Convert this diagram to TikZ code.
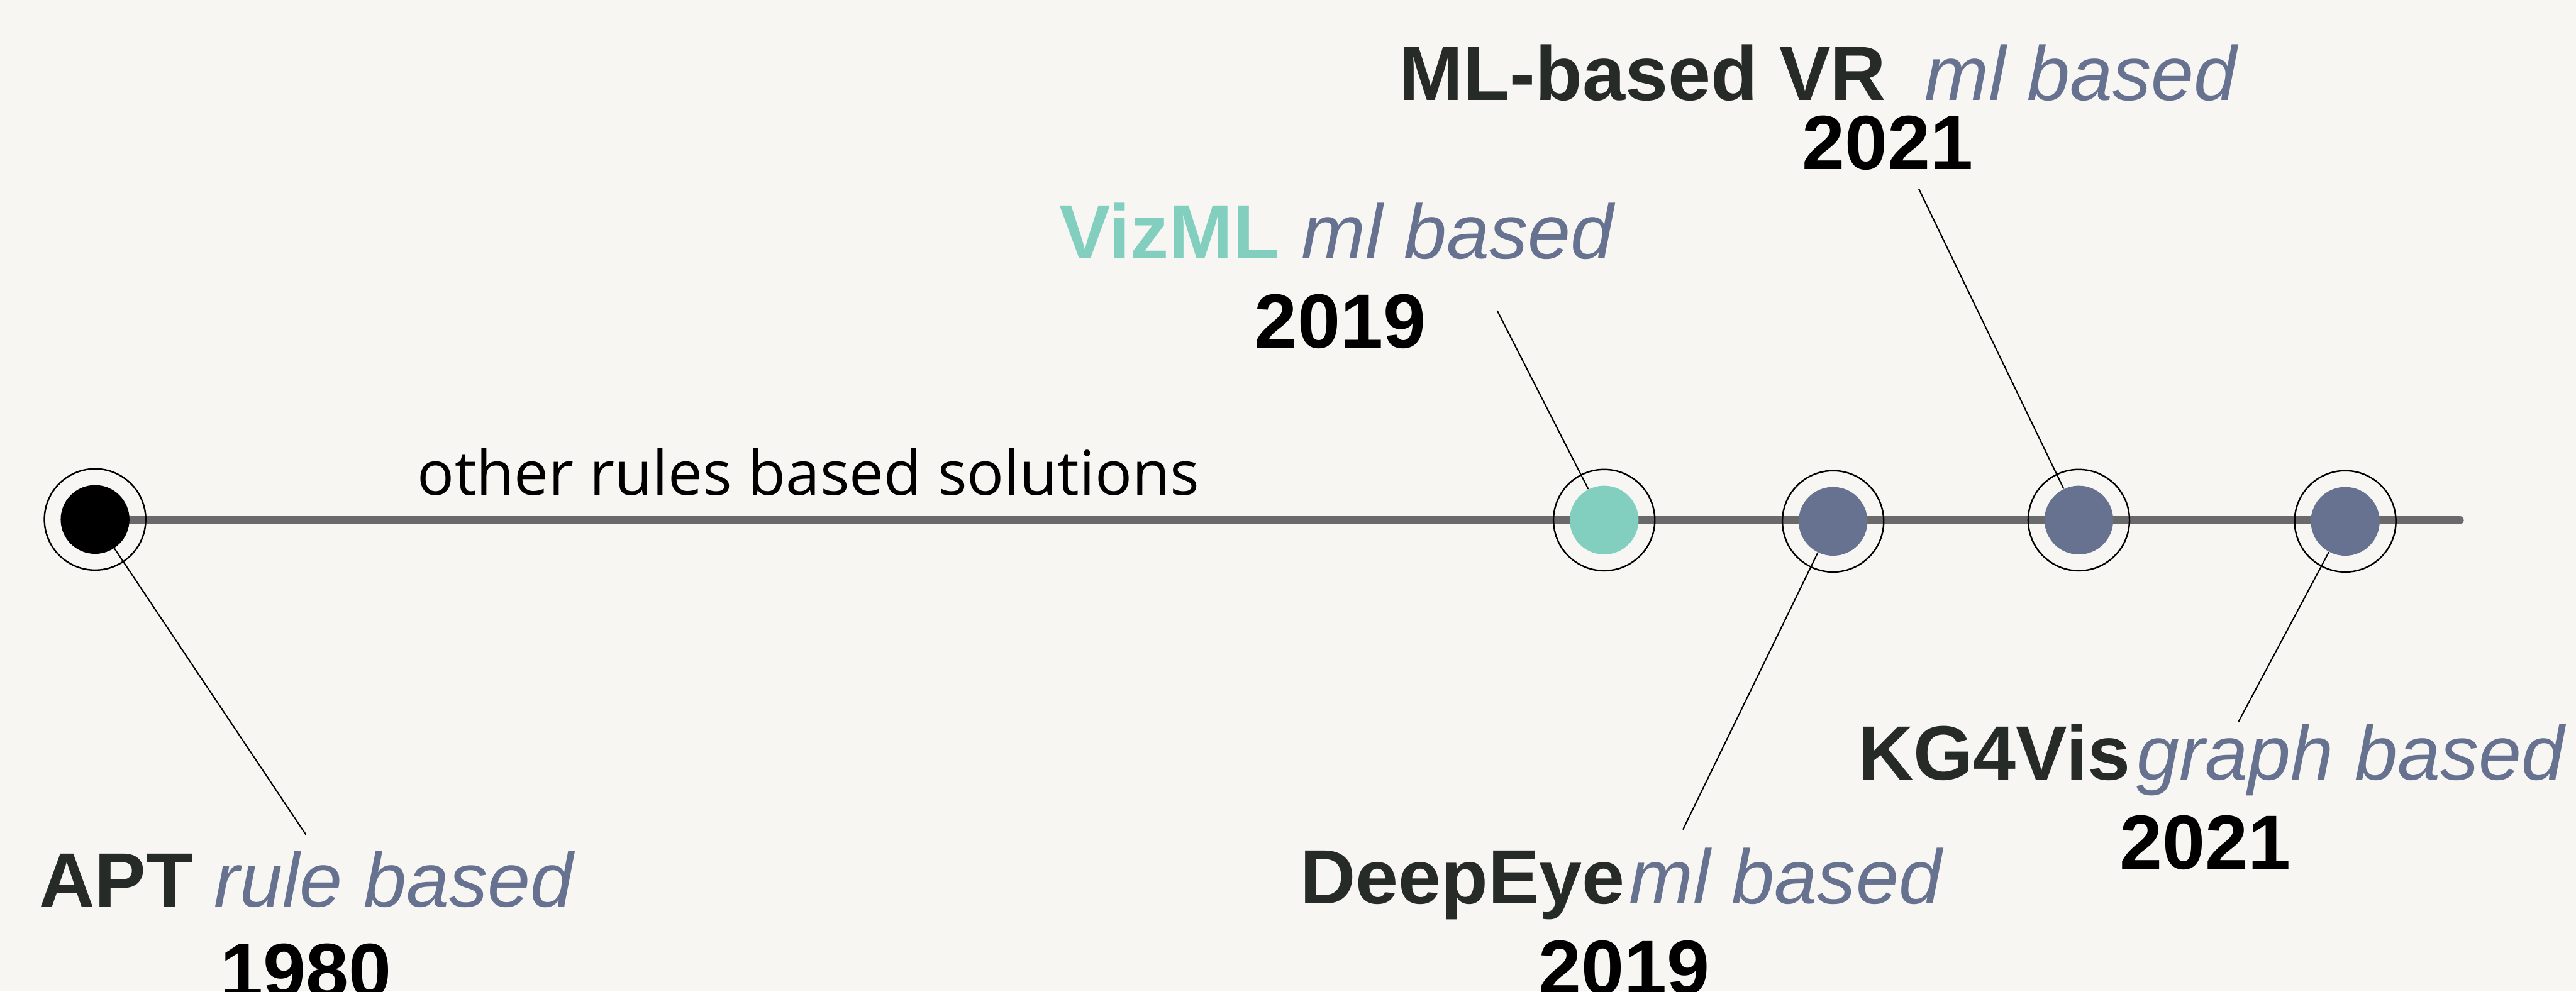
\documentclass[tikz,border=0pt]{standalone}
\usepackage{fontspec}
\setmainfont{Liberation Sans}
\newfontfamily\thinfont{Open Sans}
\usetikzlibrary{calc}
\definecolor{bg}{HTML}{F7F6F2}
\definecolor{ink}{HTML}{262B28}
\definecolor{slate}{HTML}{66728F}
\definecolor{vizteal}{HTML}{82CFBF}
\definecolor{axisgrey}{HTML}{6A6A6A}
\newcommand{\kind}[1]{{\mdseries\itshape\color{slate}#1}}
\tikzset{
  ring/.style={circle,draw,line width=0.7pt,minimum size=1.62cm,inner sep=0pt},
  dot/.style={circle,fill=slate,minimum size=1.1cm,inner sep=0pt},
  lbl/.style={anchor=base west,inner sep=0pt,text=ink,font=\fontsize{35}{40}\selectfont\bfseries},
  yr/.style={anchor=base,inner sep=0pt,font=\fontsize{35}{40}\selectfont\bfseries},
  lead/.style={line width=0.6pt},
  axisln/.style={line width=3.7pt,axisgrey,line cap=round},
}

\begin{document}
\begin{tikzpicture}
\useasboundingbox (0,0) rectangle (41.19,15.86);
\fill[bg] (0,0) rectangle (41.19,15.86);
% time axis
\coordinate (t0) at (1.52,7.54); \coordinate (t1) at (39.33,7.54);
\draw[axisln] (t0) -- (t1);
\node[anchor=base west,inner sep=0pt,font=\thinfont\fontsize{28}{32}\selectfont] (other) at (6.67,7.94){other rules based solutions};
% events on the axis
\node[ring] (apt-r) at (1.52,7.55){}; \node[dot,fill=black] (apt) at (1.52,7.55){};
\node[ring] (vizml-r) at (25.65,7.54){}; \node[dot,fill=vizteal] (vizml) at (25.65,7.54){};
\node[ring] (deepeye-r) at (29.31,7.52){}; \node[dot] (deepeye) at (29.31,7.52){};
\node[ring] (mlvr-r) at (33.24,7.54){}; \node[dot] (mlvr) at (33.24,7.54){};
\node[ring] (kg4vis-r) at (37.50,7.52){}; \node[dot] (kg4vis) at (37.50,7.52){};
% leader lines
\coordinate (apt-e) at (4.89,2.51); \coordinate (vizml-e) at (23.94,10.89);
\coordinate (deepeye-e) at (26.91,2.59); \coordinate (mlvr-e) at (30.68,12.84);
\coordinate (kg4vis-e) at (35.79,4.31);
\draw[lead] (apt) -- (apt-e); \draw[lead] (vizml) -- (vizml-e); \draw[lead] (deepeye) -- (deepeye-e);
\draw[lead] (mlvr) -- (mlvr-e); \draw[lead] (kg4vis) -- (kg4vis-e);
% labels and years
\node[lbl] (apt-l) at (0.62,1.35){APT \kind{rule based}};
\node[yr] (apt-y) at (4.89,-0.09){1980};
\node[lbl] (vizml-l) at (16.93,11.72){\textcolor{vizteal}{VizML} \kind{ml based}};
\node[yr] (vizml-y) at (21.43,10.29){2019};
\node[lbl] (deepeye-l) at (20.78,1.40){DeepEye\kern2pt\kind{ml based}};
\node[yr] (deepeye-y) at (25.97,-0.04){2019};
\node[lbl] (mlvr-l) at (22.36,14.26){ML-based VR\hspace{0.5em}\kind{ml based}};
\node[yr] (mlvr-y) at (30.18,13.15){2021};
\node[lbl] (kg4vis-l) at (29.70,3.39){KG4Vis\kern3pt\kind{graph based}};
\node[yr] (kg4vis-y) at (35.26,1.96){2021};
\end{tikzpicture}
\end{document}
